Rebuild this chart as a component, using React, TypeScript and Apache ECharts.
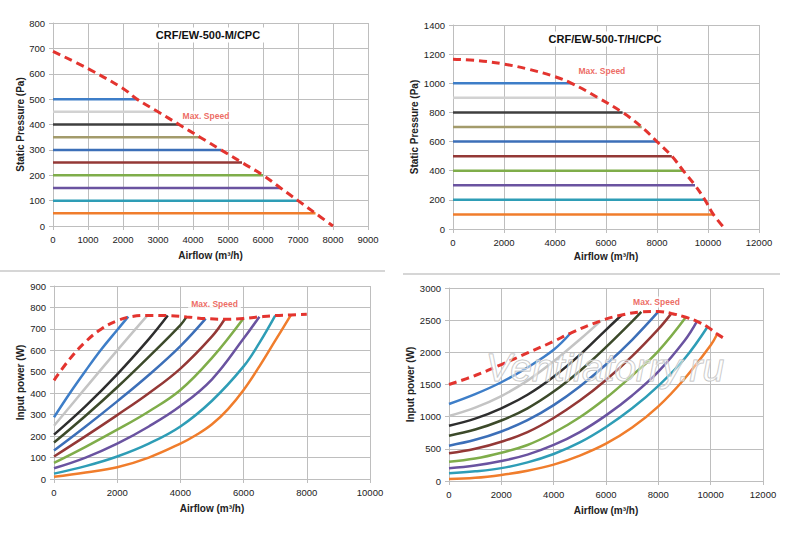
import { useEffect, useRef } from 'react';
import * as echarts from 'echarts';

const FONT = '"Liberation Sans", Arial, sans-serif';
const MAX_LABEL = 'Max. Speed';

// --- top left: CRF/EW-500-M/CPC, static pressure
const TL_TITLE = 'CRF/EW-500-M/CPC';
const TL_LEVELS = [500, 450, 400, 350, 300, 250, 200, 150, 100, 50];
const TL_ENDS = [2400, 2950, 3600, 4200, 4800, 5400, 6000, 6500, 7000, 7500];
const TL_MAX = [
  [0, 688], [1000, 620], [2000, 542], [2400, 500], [3000, 450], [3600, 400], [4200, 350],
  [4800, 300], [5400, 250], [6000, 200], [6500, 150], [7000, 100], [7500, 50], [8000, 0],
];
const TL_LABEL_AT = [4370, 433];

// --- top right: CRF/EW-500-T/H/CPC, static pressure
const TR_TITLE = 'CRF/EW-500-T/H/CPC';
const TR_LEVELS = [1000, 900, 800, 700, 600, 500, 400, 300, 200, 100];
const TR_ENDS = [4650, 5700, 6650, 7400, 8000, 8580, 9030, 9490, 9880, 10210];
const TR_MAX = [
  [0, 1165], [1000, 1155], [2000, 1132], [3000, 1095], [4000, 1045], [4650, 1000], [5700, 900],
  [6650, 800], [7400, 700], [8000, 600], [8580, 500], [9030, 400], [9490, 300], [9880, 200],
  [10210, 100], [10670, 0],
];
const TR_LABEL_AT = [5840, 1084];

// --- bottom left: input power, M model
const BL_CURVES = [
  [[0, 288], [500, 400], [1000, 505], [1500, 605], [2000, 695], [2350, 757]],
  [[0, 248], [1000, 425], [2000, 600], [2950, 762]],
  [[0, 207], [1000, 340], [2000, 488], [3000, 652], [3600, 762]],
  [[0, 170], [1000, 295], [2000, 428], [3000, 570], [4000, 718], [4200, 757]],
  [[0, 133], [1000, 245], [2000, 362], [3000, 485], [4000, 620], [4800, 748]],
  [[0, 105], [1000, 200], [2000, 298], [3000, 400], [4000, 515], [5000, 665], [5400, 745]],
  [[0, 75], [1000, 150], [2000, 230], [3000, 315], [4000, 415], [5000, 565], [6000, 750]],
  [[0, 50], [1000, 100], [2000, 165], [3000, 245], [4000, 340], [5000, 465], [6000, 655], [6500, 757]],
  [[0, 25], [1000, 60], [2000, 105], [3000, 165], [4000, 245], [5000, 365], [6000, 525], [6500, 635], [7000, 762]],
  [[0, 10], [1000, 30], [2000, 55], [3000, 100], [4000, 165], [4500, 205], [5000, 255], [5500, 325], [6000, 415], [6500, 525], [7000, 645], [7500, 765]],
];
const BL_MAX = [
  [0, 460], [500, 560], [1000, 640], [1500, 700], [2000, 738], [2400, 756], [3000, 763], [3600, 762],
  [4200, 756], [4800, 748], [5400, 745], [6000, 749], [6500, 756], [7000, 762], [7500, 765], [8000, 768],
];
const BL_LABEL_AT = [5080, 816];

// --- bottom right: input power, T/H model
const BR_CURVES = [
  [[0, 1197], [1000, 1350], [2000, 1535], [3000, 1765], [4000, 2040], [4650, 2300]],
  [[0, 1010], [1000, 1140], [2000, 1320], [3000, 1560], [4000, 1860], [5000, 2200], [5800, 2490]],
  [[0, 860], [1000, 970], [2000, 1130], [3000, 1340], [4000, 1620], [5000, 1960], [6000, 2350], [6600, 2580]],
  [[0, 704], [1000, 800], [2000, 940], [3000, 1130], [4000, 1390], [5000, 1710], [6000, 2080], [7000, 2480], [7350, 2628]],
  [[0, 549], [1000, 640], [2000, 770], [3000, 945], [4000, 1180], [5000, 1470], [6000, 1810], [7000, 2195], [8000, 2632]],
  [[0, 430], [1000, 500], [2000, 610], [3000, 760], [4000, 980], [5000, 1250], [6000, 1570], [7000, 1940], [8000, 2360], [8470, 2590]],
  [[0, 300], [1000, 350], [2000, 440], [3000, 560], [4000, 750], [5000, 990], [6000, 1290], [7000, 1640], [8000, 2020], [9050, 2545]],
  [[0, 197], [1000, 240], [2000, 310], [3000, 410], [4000, 560], [5000, 760], [6000, 1020], [7000, 1330], [8000, 1700], [9000, 2180], [9470, 2478]],
  [[0, 119], [1000, 150], [2000, 200], [3000, 290], [4000, 420], [5000, 600], [6000, 840], [7000, 1130], [8000, 1480], [9000, 1900], [9870, 2390]],
  [[0, 31], [1000, 50], [2000, 95], [3000, 160], [4000, 255], [5000, 395], [6000, 580], [7000, 830], [8000, 1160], [9000, 1590], [10000, 2110], [10230, 2270]],
];
const BR_MAX = [
  [0, 1500], [1000, 1640], [2000, 1810], [3000, 1990], [4000, 2170], [4650, 2300], [5800, 2490],
  [6600, 2580], [7350, 2628], [8000, 2635], [8500, 2605], [9050, 2545], [9500, 2478], [9900, 2390],
  [10250, 2285], [10600, 2195],
];
const BR_LABEL_AT = [7930, 2783];

const TOP_COLORS = ['#3E7EC8', '#D2D2D2', '#3F3F3F', '#A39B6B', '#3C6FB8', '#943836', '#7FAD4A', '#6A53A0', '#2E9DB6', '#F07D2C'];
const BOTTOM_COLORS = ['#3E7EC8', '#C4C4C4', '#2E2E2E', '#3C4A2A', '#3C6FB8', '#943836', '#7FAD4A', '#6A53A0', '#2E9DB6', '#F07D2C'];
const MAX_COLOR = '#E3342F';
const GRID_COLOR = '#BEBEBE';

const plain = (v: number) => String(v);

function xAxisOf(gridIndex: number, max: number, interval: number, gap: number) {
  return {
    type: 'value', gridIndex, min: 0, max, interval,
    name: 'Airflow (m³/h)', nameLocation: 'middle', nameGap: gap,
    nameTextStyle: { color: '#222', fontSize: 10, fontWeight: 'bold', fontFamily: FONT },
    axisLine: { show: true, lineStyle: { color: GRID_COLOR } },
    axisTick: { show: true, length: 4, lineStyle: { color: GRID_COLOR } },
    axisLabel: { color: '#222', fontSize: 9.5, fontFamily: FONT, margin: 8, formatter: plain },
    splitLine: { show: true, lineStyle: { color: GRID_COLOR, width: 1 } },
  };
}

function yAxisOf(gridIndex: number, max: number, interval: number, name: string, gap: number) {
  return {
    type: 'value', gridIndex, min: 0, max, interval,
    name, nameLocation: 'middle', nameGap: gap, nameRotate: 90,
    nameTextStyle: { color: '#222', fontSize: 10, fontWeight: 'bold', fontFamily: FONT },
    axisLine: { show: true, lineStyle: { color: GRID_COLOR } },
    axisTick: { show: true, length: 4, lineStyle: { color: GRID_COLOR } },
    axisLabel: { color: '#222', fontSize: 9.5, fontFamily: FONT, margin: 8, formatter: plain },
    splitLine: { show: true, lineStyle: { color: GRID_COLOR, width: 1 } },
  };
}

function lineSeries(idx: number, data: number[][], color: string, smooth: boolean | number) {
  return {
    type: 'line', xAxisIndex: idx, yAxisIndex: idx, data, smooth,
    symbol: 'none', silent: true,
    lineStyle: { color, width: 2.5 },
  };
}

function maxSeries(idx: number, data: number[][]) {
  return {
    type: 'line', xAxisIndex: idx, yAxisIndex: idx, data, smooth: 0.4,
    symbol: 'none', silent: true, z: 5,
    lineStyle: { color: MAX_COLOR, width: 3, type: [8, 5] },
  };
}

function labelSeries(idx: number, at: number[]) {
  return {
    type: 'scatter', xAxisIndex: idx, yAxisIndex: idx, data: [at],
    symbolSize: 1, silent: true, z: 6,
    itemStyle: { color: 'rgba(0,0,0,0)' },
    label: {
      show: true, position: 'inside', formatter: MAX_LABEL,
      color: '#E8453A', fontSize: 8.5, fontWeight: 'bold', fontFamily: FONT,
      backgroundColor: '#fff', padding: [1, 3],
    },
  };
}

export default function App() {
  const chartRef = useRef<HTMLDivElement>(null);

  useEffect(() => {
    if (!chartRef.current) return;
    const chart = echarts.init(chartRef.current, null, { renderer: 'svg' });

    const series: any[] = [];
    TL_LEVELS.forEach((p, i) => series.push(lineSeries(0, [[0, p], [TL_ENDS[i], p]], TOP_COLORS[i], false)));
    series.push(maxSeries(0, TL_MAX), labelSeries(0, TL_LABEL_AT));
    TR_LEVELS.forEach((p, i) => series.push(lineSeries(1, [[0, p], [TR_ENDS[i], p]], TOP_COLORS[i], false)));
    series.push(maxSeries(1, TR_MAX), labelSeries(1, TR_LABEL_AT));
    BL_CURVES.forEach((c, i) => series.push(lineSeries(2, c, BOTTOM_COLORS[i], 0.4)));
    series.push(maxSeries(2, BL_MAX), labelSeries(2, BL_LABEL_AT));
    BR_CURVES.forEach((c, i) => series.push(lineSeries(3, c, BOTTOM_COLORS[i], 0.4)));
    series.push(maxSeries(3, BR_MAX), labelSeries(3, BR_LABEL_AT));

    const titleStyle = {
      fill: '#111', font: `bold 11px ${FONT}`, textAlign: 'center', textVerticalAlign: 'middle',
      backgroundColor: '#fff', padding: [2, 4],
    };

    chart.setOption({
      animation: false,
      backgroundColor: '#fff',
      grid: [
        { left: 53, top: 23, width: 315, height: 203, outerBoundsMode: 'none' },
        { left: 453, top: 25, width: 306, height: 204, outerBoundsMode: 'none' },
        { left: 54, top: 286, width: 316, height: 193, outerBoundsMode: 'none' },
        { left: 449, top: 288, width: 314, height: 193, outerBoundsMode: 'none' },
      ],
      xAxis: [
        xAxisOf(0, 9000, 1000, 24),
        xAxisOf(1, 12000, 2000, 22),
        xAxisOf(2, 10000, 2000, 24),
        xAxisOf(3, 12000, 2000, 24),
      ],
      yAxis: [
        yAxisOf(0, 800, 100, 'Static Pressure (Pa)', 28),
        yAxisOf(1, 1400, 200, 'Static Pressure (Pa)', 34),
        yAxisOf(2, 900, 100, 'Input power (W)', 29),
        yAxisOf(3, 3000, 500, 'Input power (W)', 32),
      ],
      series,
      graphic: [
        { type: 'text', x: 208, y: 35, z: 10, style: { ...titleStyle, text: TL_TITLE } },
        { type: 'text', x: 605, y: 39, z: 10, style: { ...titleStyle, text: TR_TITLE } },
        { type: 'line', shape: { x1: 0, y1: 271, x2: 385, y2: 271 }, style: { stroke: '#C8C8C8', lineWidth: 1.5 } },
        { type: 'line', shape: { x1: 403, y1: 274, x2: 780, y2: 274 }, style: { stroke: '#C8C8C8', lineWidth: 1.5 } },
        {
          type: 'text', x: 605, y: 367, z: 100, silent: true,
          style: {
            text: 'Ventilatorry.ru', font: `italic 39px ${FONT}`,
            textAlign: 'center', textVerticalAlign: 'middle',
            fill: 'rgba(255,255,255,0.45)', stroke: '#BDBDBD', lineWidth: 1,
          },
        },
      ],
    });

    return () => chart.dispose();
  }, []);

  return (
    <div
      ref={chartRef}
      style={{ position: 'absolute', left: 0, top: 0, width: 800, height: 533, background: '#fff' }}
    />
  );
}
